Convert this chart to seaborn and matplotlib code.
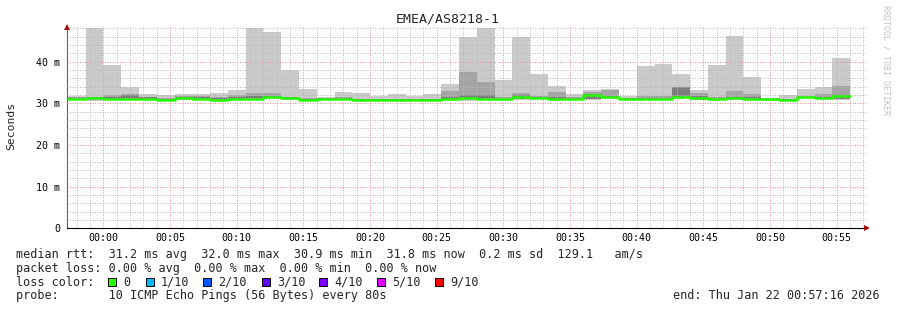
import numpy as np
import pandas as pd
import matplotlib
matplotlib.use("Agg")
import matplotlib.pyplot as plt
import matplotlib.dates as mdates
from matplotlib.ticker import MultipleLocator, FuncFormatter
from matplotlib.patches import Rectangle
import seaborn as sns

# ---------------- data (milliseconds) ----------------
title = "EMEA/AS8218-1"
ping_max = [31.7, 48.1, 39.2, 33.8, 32.3, 32.0, 32.2, 32.2, 32.5, 33.2,
            48.1, 47.0, 38.1, 33.5, 31.4, 32.8, 32.5, 31.8, 32.3, 31.8,
            32.3, 34.7, 46.0, 48.1, 35.6, 46.0, 37.1, 34.2, 32.2, 33.2,
            33.5, 31.8, 39.0, 39.5, 37.1, 33.1, 39.2, 46.2, 36.3, 31.3,
            32.0, 33.5, 33.8, 40.9]
ping_p8 = [31.5, 31.6, 32.0, 32.2, 31.6, 31.3, 31.7, 31.8, 31.6, 32.0,
           32.5, 32.5, 31.5, 31.2, 31.3, 31.4, 31.1, 31.1, 31.1, 31.1,
           31.1, 33.0, 37.4, 35.0, 31.4, 32.5, 31.7, 32.7, 31.5, 32.7,
           33.2, 31.3, 31.7, 31.7, 34.0, 32.5, 31.6, 33.0, 32.3, 31.2,
           31.1, 31.8, 32.3, 34.2]
ping_p7 = [31.3, 31.4, 31.6, 32.0, 31.4, 31.1, 31.5, 31.4, 31.3, 31.5,
           31.7, 31.7, 31.4, 31.0, 31.2, 31.2, 31.0, 31.0, 31.0, 31.0,
           31.0, 31.6, 32.0, 32.0, 31.1, 31.9, 31.5, 31.4, 31.2, 32.3,
           31.8, 31.2, 31.3, 31.3, 33.9, 31.8, 31.3, 31.5, 31.4, 31.1,
           31.0, 31.6, 31.6, 32.0]
median_rtt = [31.0, 31.2, 31.1, 31.1, 31.1, 30.9, 31.2, 31.1, 30.9, 31.1,
              31.1, 31.4, 31.2, 30.9, 31.1, 31.1, 30.9, 30.9, 30.9, 30.9,
              30.9, 31.1, 31.2, 31.1, 31.0, 31.6, 31.3, 31.1, 31.1, 32.0,
              31.5, 31.1, 31.1, 31.1, 31.4, 31.2, 31.1, 31.2, 31.1, 31.0,
              30.9, 31.5, 31.3, 31.8]
ping_p2 = [30.9, 31.1, 31.0, 31.0, 31.0, 30.8, 31.1, 31.0, 30.8, 31.0,
           31.0, 31.3, 31.1, 30.8, 31.0, 31.0, 30.8, 30.8, 30.8, 30.8,
           30.8, 31.0, 31.1, 31.0, 30.9, 31.1, 31.2, 31.0, 31.0, 31.1,
           31.3, 31.0, 31.0, 31.0, 31.3, 30.9, 31.0, 31.1, 31.0, 30.9,
           30.8, 31.4, 31.2, 31.0]
ping_p1 = [30.8, 30.9, 30.9, 30.9, 30.9, 30.7, 31.0, 30.9, 30.7, 30.9,
           30.9, 31.2, 31.0, 30.7, 30.9, 30.9, 30.7, 30.7, 30.7, 30.7,
           30.7, 30.9, 31.0, 30.9, 30.8, 31.0, 31.1, 30.9, 30.9, 31.0,
           31.2, 30.9, 30.9, 30.9, 31.2, 30.85, 30.9, 31.0, 30.9, 30.8,
           30.7, 31.3, 31.1, 30.95]
ping_min = [30.7, 30.6, 30.8, 30.8, 30.8, 30.6, 30.9, 30.8, 30.6, 30.8,
            30.8, 31.1, 30.9, 30.6, 30.8, 30.8, 30.6, 30.6, 30.6, 30.6,
            30.6, 30.8, 30.6, 30.8, 30.5, 30.9, 31.0, 30.8, 30.8, 30.9,
            31.1, 30.8, 30.8, 30.8, 31.1, 30.8, 30.8, 30.9, 30.5, 30.6,
            30.6, 31.2, 31.0, 30.9]

loss_labels = ["0", "1/10", "2/10", "3/10", "4/10", "5/10", "9/10"]
loss_colors = ["#26ff00", "#00b8ff", "#0059ff", "#5e00ff", "#7e00ff", "#dd00ff", "#ff0000"]

stats_line = "median rtt:  31.2 ms avg  32.0 ms max  30.9 ms min  31.8 ms now  0.2 ms sd  129.1   am/s"
loss_line = "packet loss: 0.00 % avg  0.00 % max  0.00 % min  0.00 % now"
probe_line = "probe:       10 ICMP Echo Pings (56 Bytes) every 80s"
end_line = "end: Thu Jan 22 00:57:16 2026"

step_s = 80
first_bar = "2026-01-21 23:57:20"
view_start = "2026-01-21 23:57:16"
view_end = "2026-01-22 00:57:16"

# ---------------- build table ----------------
times = pd.date_range(first_bar, periods=len(median_rtt), freq=f"{step_s}s")
edges = times.append(pd.DatetimeIndex([times[-1] + pd.Timedelta(seconds=step_s)]))


def ext(a):
    a = list(a)
    return np.array(a + [a[-1]])


df = pd.DataFrame({
    "t": edges,
    "max": ext(ping_max), "p8": ext(ping_p8), "p7": ext(ping_p7),
    "median": ext(median_rtt),
    "p2": ext(ping_p2), "p1": ext(ping_p1), "min": ext(ping_min),
})

# ---------------- figure ----------------
sns.set_theme(style="white")
plt.rcParams["font.family"] = ["DejaVu Sans Mono"]

W, H = 897, 310
fig = plt.figure(figsize=(W / 100, H / 100), dpi=100)
fig.patch.set_facecolor("white")
ax_left, ax_right, ax_top, ax_bot = 67, 867, 27, 228.3
ax = fig.add_axes([ax_left / W, (H - ax_bot) / H, (ax_right - ax_left) / W, (ax_bot - ax_top) / H])
ax.set_facecolor("white")

# smoke bands
ax.fill_between(df["t"], df["min"], df["max"], step="post", color="#cacaca", lw=0, zorder=1)
ax.fill_between(df["t"], df["p1"], df["p8"], step="post", color="#a4a4a4", lw=0, zorder=1.1)
ax.fill_between(df["t"], df["p2"], df["p7"], step="post", color="#7e7e7e", lw=0, zorder=1.2)

# median line
sns.lineplot(data=df, x="t", y="median", ax=ax, estimator=None, drawstyle="steps-post",
             color=loss_colors[0], lw=1.8, zorder=3)

ax.set_xlim(pd.Timestamp(view_start), pd.Timestamp(view_end))
ax.set_ylim(0, 48.3)
ax.set_xlabel("")
ax.set_ylabel("")

# grid
ax.xaxis.set_major_locator(mdates.MinuteLocator(byminute=range(0, 60, 5)))
ax.xaxis.set_minor_locator(mdates.MinuteLocator(byminute=range(0, 60, 1)))
ax.xaxis.set_major_formatter(mdates.DateFormatter("%H:%M"))
ax.yaxis.set_major_locator(MultipleLocator(10))
ax.yaxis.set_minor_locator(MultipleLocator(2))
ax.yaxis.set_major_formatter(FuncFormatter(lambda v, p: "0" if v == 0 else f"{v:g} m"))

ax.set_axisbelow(False)
ax.grid(which="minor", color="#b8b8b8", lw=0.72, linestyle=(0, (1, 1.5)))
ax.grid(which="major", color="#f09090", lw=0.72, linestyle=(0, (1, 1.5)))

ax.tick_params(axis="y", which="major", length=3.3, width=0.72, color="#505050",
               direction="out", pad=1.5, labelsize=7.2, labelcolor="black")
ax.tick_params(axis="x", which="major", length=2.2, width=0.72, color="#f09090",
               direction="out", pad=1.5, labelsize=7.2, labelcolor="black")
ax.tick_params(which="minor", length=0)

for s in ["top", "right"]:
    ax.spines[s].set_visible(False)
ax.spines["left"].set_color("#606060")
ax.spines["left"].set_linewidth(0.8)
ax.spines["bottom"].set_color("black")
ax.spines["bottom"].set_linewidth(0.8)

# axis arrows
ax.plot([0], [1.0], marker="^", markersize=4, color="#a01010", transform=ax.transAxes,
        clip_on=False, zorder=5, markeredgewidth=0)
ax.plot([1.0], [0], marker=">", markersize=4, color="#a01010", transform=ax.transAxes,
        clip_on=False, zorder=5, markeredgewidth=0)


def fx(px):
    return px / W


def fy(py):
    return (H - py) / H


# texts
fig.text(fx(448), fy(19), title, ha="center", va="center", fontsize=9.5)
fig.text(fx(11), fy(126), "Seconds", rotation=90, ha="center", va="center", fontsize=8.2)
fig.text(fx(886), fy(60), "RRDTOOL / TOBI OETIKER", rotation=270, ha="center", va="center",
         fontsize=6, color="#c4c4c4")

fs = 8.5
fig.text(fx(16), fy(254.3), stats_line, ha="left", va="center", fontsize=fs)
fig.text(fx(16), fy(268.3), loss_line, ha="left", va="center", fontsize=fs)
fig.text(fx(16), fy(282.3), "loss color:", ha="left", va="center", fontsize=fs)
fig.text(fx(16), fy(295.7), probe_line, ha="left", va="center", fontsize=fs)
fig.text(fx(880), fy(295.7), end_line, ha="right", va="center", fontsize=fs)

box_x = [108.3, 145.7, 203.3, 261.7, 319.3, 376.7, 435.0]
for bx, lab, col in zip(box_x, loss_labels, loss_colors):
    fig.patches.append(Rectangle((fx(bx), fy(286)), 8 / W, 8 / H, transform=fig.transFigure,
                                 facecolor=col, edgecolor="black", lw=0.7))
    fig.text(fx(bx + 15), fy(282.3), lab, ha="left", va="center", fontsize=fs)

fig.savefig("out.png", dpi=100, facecolor="white")
